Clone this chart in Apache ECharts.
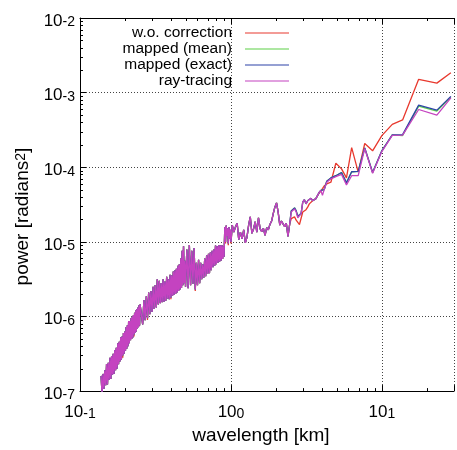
<!DOCTYPE html>
<html>
<head>
<meta charset="utf-8">
<script src="https://cdn.jsdelivr.net/npm/echarts@6/dist/echarts.min.js"></script>
<style>
html,body{margin:0;padding:0;background:#fff;}
#chart{width:457px;height:450px;}
</style>
</head>
<body>
<div id="chart"></div>
<script>
// wavelength [km]
const wavelength = [
0.138,0.14,0.142,0.144,0.146,0.148,0.15,0.152,0.154,0.156,0.158,0.16,0.162,0.164,0.166,0.168,0.17,0.172,0.174,0.176,0.178,0.18,0.182,0.184,0.186,0.188,0.19,0.192,0.194,0.196,0.198,0.2,0.202,0.204,0.206,0.208,0.21,0.212,0.214,0.216,0.218,0.22,0.222,0.224,0.226,0.228,0.23,0.232,0.234,0.236,0.238,0.24,0.242,0.244,0.246,0.248,0.25,
0.255,0.26,0.265,0.27,0.275,0.28,0.285,0.29,0.295,0.3,0.305,0.31,0.315,0.32,0.325,0.33,0.335,0.34,0.345,0.35,0.355,0.36,0.365,0.37,0.375,0.38,0.385,0.39,0.395,0.4,0.405,0.41,0.415,0.42,0.425,0.43,0.435,0.44,0.445,0.45,0.455,0.46,0.465,0.47,0.475,0.48,0.485,0.49,0.495,0.5,
0.51,0.52,0.53,0.54,0.55,0.56,0.57,0.58,0.59,0.6,0.61,0.62,0.63,0.64,0.65,0.66,0.67,0.68,0.69,0.7,0.71,0.72,0.73,0.74,0.75,0.76,0.77,0.78,0.79,0.8,0.81,0.82,0.83,0.84,0.85,0.86,0.87,0.88,0.89,0.9,0.91,0.92,0.93,0.94,0.95,0.96,0.97,0.98,0.99,1.0,
1.02,1.045,1.072,1.099,1.126,1.155,1.184,1.214,1.245,1.276,1.309,1.342,1.376,1.411,1.447,1.483,1.521,1.56,1.599,1.64,1.681,1.724,1.767,1.81,1.858,1.905,1.953,2.003,2.053,2.105,2.158,2.213,2.269,2.326,2.385,2.446,2.507,2.57,2.636,2.703,2.771,2.842,2.914,2.988,3.064,3.141,3.221,3.303,3.386,3.472,3.561,3.651,3.743,3.838,3.936,4.035,4.138,
4.31,4.59,4.95,5.4,5.82,6.3,6.96,7.69,8.67,9.98,11.7,13.7,17.5,23.1,28.6
];

// power [radians^2]
const woCorrection = [
1.6e-7,8.9e-8,1.7e-7,1.07e-7,1.9e-7,1.2e-7,2.3e-7,1.23e-7,2.4e-7,1.41e-7,2.8e-7,1.45e-7,2.95e-7,1.66e-7,3.16e-7,1.7e-7,3.55e-7,1.9e-7,3.8e-7,2.0e-7,4.37e-7,2.3e-7,4.57e-7,2.5e-7,5.25e-7,2.63e-7,5.4e-7,2.8e-7,6.0e-7,3.16e-7,6.3e-7,3.47e-7,7.2e-7,3.7e-7,7.6e-7,4.0e-7,8.7e-7,4.37e-7,8.7e-7,4.8e-7,9.5e-7,5.0e-7,1.0e-6,5.25e-7,1.05e-6,5.4e-7,1.12e-6,6.0e-7,1.2e-6,6.3e-7,1.26e-6,6.9e-7,1.32e-6,7.2e-7,1.41e-6,7.6e-7,1.45e-6,
1.51e-6,7.8e-7,1.66e-6,8.9e-7,1.86e-6,9.0e-7,2.1e-6,1.07e-6,2.2e-6,1.15e-6,2.5e-6,1.26e-6,2.63e-6,1.32e-6,3.16e-6,1.45e-6,3.0e-6,1.51e-6,2.8e-6,1.55e-6,3.16e-6,1.58e-6,2.95e-6,1.62e-6,3.4e-6,1.74e-6,3.16e-6,1.7e-6,3.63e-6,1.7e-6,3.55e-6,1.9e-6,4.0e-6,1.95e-6,4.17e-6,2.0e-6,4.37e-6,2.1e-6,4.8e-6,2.2e-6,5.0e-6,2.3e-6,6.0e-6,2.4e-6,7.6e-6,2.63e-6,8.7e-6,2.8e-6,5.6e-6,2.5e-6,
7.9e-6,2.4e-6,9.1e-6,2.63e-6,7.6e-6,2.75e-6,8.3e-6,2.2e-6,5.25e-6,2.63e-6,5.75e-6,2.8e-6,5.25e-6,3.16e-6,5.0e-6,3.3e-6,6.0e-6,3.47e-6,6.6e-6,3.7e-6,6.9e-6,3.8e-6,7.2e-6,4.17e-6,7.6e-6,4.57e-6,7.9e-6,4.8e-6,8.9e-6,5.0e-6,8.7e-6,5.25e-6,9.1e-6,5.4e-6,8.9e-6,5.6e-6,9.1e-6,5.9e-6,8.7e-6,6.3e-6,1.58e-5,9.5e-6,1.66e-5,1.2e-5,1.51e-5,9.0e-6,1.58e-5,1.1e-5,1.45e-5,9.5e-6,
1.68e-5,1.35e-5,1.6e-5,1.77e-5,1.07e-5,1.35e-5,1.1e-5,1.45e-5,9.7e-6,1.15e-5,1.68e-5,2.16e-5,1.3e-5,1.49e-5,1.86e-5,1.35e-5,2.1e-5,1.49e-5,1.37e-5,1.52e-5,1.22e-5,1.55e-5,1.45e-5,1.71e-5,1.9e-5,2.39e-5,2.92e-5,3.33e-5,2.51e-5,1.68e-5,1.9e-5,2.01e-5,1.6e-5,1.77e-5,1.18e-5,1.71e-5,2.05e-5,2.09e-5,2.16e-5,1.95e-5,1.82e-5,1.71e-5,1.77e-5,2.51e-5,2.64e-5,2.7e-5,2.92e-5,3.23e-5,3.4e-5,3.56e-5,3.67e-5,3.8e-5,4.15e-5,4.5e-5,4.8e-5,5.18e-5,5.6e-5,
6.0e-5,6.3e-5,1.13e-4,9.5e-5,7.2e-5,1.83e-4,8.6e-5,2.08e-4,1.66e-4,2.65e-4,3.76e-4,4.3e-4,1.51e-3,1.34e-3,1.85e-3
];

const mappedMean = [
1.6e-7,8.9e-8,1.7e-7,1.07e-7,1.9e-7,1.2e-7,2.3e-7,1.23e-7,2.4e-7,1.41e-7,2.8e-7,1.45e-7,2.95e-7,1.66e-7,3.16e-7,1.7e-7,3.55e-7,1.9e-7,3.8e-7,2.0e-7,4.37e-7,2.3e-7,4.57e-7,2.5e-7,5.25e-7,2.63e-7,5.4e-7,3.0e-7,6.0e-7,3.16e-7,6.3e-7,3.47e-7,7.2e-7,3.7e-7,7.6e-7,4.0e-7,8.7e-7,4.37e-7,8.7e-7,4.8e-7,9.5e-7,5.0e-7,1.0e-6,5.25e-7,1.05e-6,5.75e-7,1.12e-6,6.0e-7,1.2e-6,6.3e-7,1.26e-6,6.9e-7,1.32e-6,7.2e-7,1.41e-6,7.6e-7,1.45e-6,
1.51e-6,7.8e-7,1.66e-6,8.9e-7,1.86e-6,9.5e-7,2.1e-6,1.07e-6,2.2e-6,1.15e-6,2.5e-6,1.26e-6,2.63e-6,1.32e-6,3.16e-6,1.45e-6,3.0e-6,1.51e-6,2.8e-6,1.55e-6,3.16e-6,1.58e-6,2.95e-6,1.62e-6,3.4e-6,1.74e-6,3.16e-6,1.7e-6,3.63e-6,1.78e-6,3.55e-6,1.9e-6,4.0e-6,1.95e-6,4.17e-6,2.0e-6,4.37e-6,2.1e-6,4.8e-6,2.2e-6,5.0e-6,2.3e-6,6.0e-6,2.4e-6,7.6e-6,2.63e-6,8.7e-6,2.8e-6,5.6e-6,2.5e-6,
7.9e-6,2.4e-6,9.1e-6,2.63e-6,7.6e-6,2.75e-6,8.3e-6,2.3e-6,5.25e-6,2.63e-6,5.75e-6,2.8e-6,5.25e-6,3.16e-6,5.0e-6,3.3e-6,6.0e-6,3.47e-6,6.6e-6,3.7e-6,6.9e-6,3.8e-6,7.2e-6,4.17e-6,7.6e-6,4.57e-6,7.9e-6,4.8e-6,8.9e-6,5.0e-6,8.7e-6,5.25e-6,9.1e-6,5.4e-6,8.9e-6,5.6e-6,9.1e-6,5.9e-6,8.7e-6,6.3e-6,1.58e-5,1.0e-5,1.66e-5,1.2e-5,1.51e-5,9.5e-6,1.58e-5,1.1e-5,1.45e-5,1.0e-5,
1.68e-5,1.35e-5,1.6e-5,1.77e-5,1.07e-5,1.35e-5,1.1e-5,1.45e-5,9.7e-6,1.15e-5,1.68e-5,2.16e-5,1.3e-5,1.49e-5,1.86e-5,1.35e-5,2.1e-5,1.49e-5,1.37e-5,1.52e-5,1.22e-5,1.55e-5,1.45e-5,1.71e-5,1.9e-5,2.39e-5,2.92e-5,3.33e-5,2.51e-5,1.68e-5,1.9e-5,2.01e-5,1.6e-5,1.77e-5,1.18e-5,1.71e-5,2.6e-5,2.5e-5,2.85e-5,2.6e-5,2.2e-5,2.16e-5,2.39e-5,3.4e-5,3.67e-5,3.23e-5,3.56e-5,3.4e-5,3.83e-5,3.56e-5,3.4e-5,3.8e-5,3.6e-5,4.6e-5,4.9e-5,4.8e-5,5.0e-5,
6.5e-5,7.2e-5,7.7e-5,8.5e-5,6.2e-5,8.7e-5,8.8e-5,1.82e-4,8.5e-5,1.66e-4,2.71e-4,2.66e-4,6.6e-4,5.65e-4,8.7e-4
];

const mappedExact = [
1.6e-7,8.9e-8,1.7e-7,1.07e-7,1.9e-7,1.2e-7,2.3e-7,1.23e-7,2.4e-7,1.41e-7,2.8e-7,1.45e-7,2.95e-7,1.66e-7,3.16e-7,1.7e-7,3.55e-7,1.9e-7,3.8e-7,2.0e-7,4.37e-7,2.3e-7,4.57e-7,2.5e-7,5.25e-7,2.63e-7,5.4e-7,3.0e-7,6.0e-7,3.16e-7,6.3e-7,3.47e-7,7.2e-7,3.7e-7,7.6e-7,4.0e-7,8.7e-7,4.37e-7,8.7e-7,4.8e-7,9.5e-7,5.0e-7,1.0e-6,5.25e-7,1.05e-6,5.75e-7,1.12e-6,6.0e-7,1.2e-6,6.3e-7,1.26e-6,6.9e-7,1.32e-6,7.2e-7,1.41e-6,7.6e-7,1.45e-6,
1.51e-6,7.8e-7,1.66e-6,8.9e-7,1.86e-6,9.5e-7,2.1e-6,1.07e-6,2.2e-6,1.15e-6,2.5e-6,1.26e-6,2.63e-6,1.32e-6,3.16e-6,1.45e-6,3.0e-6,1.51e-6,2.8e-6,1.55e-6,3.16e-6,1.58e-6,2.95e-6,1.62e-6,3.4e-6,1.74e-6,3.16e-6,1.7e-6,3.63e-6,1.78e-6,3.55e-6,1.9e-6,4.0e-6,1.95e-6,4.17e-6,2.0e-6,4.37e-6,2.1e-6,4.8e-6,2.2e-6,5.0e-6,2.3e-6,6.0e-6,2.4e-6,7.6e-6,2.63e-6,8.7e-6,2.8e-6,5.6e-6,2.5e-6,
7.9e-6,2.4e-6,9.1e-6,2.63e-6,7.6e-6,2.75e-6,8.3e-6,2.3e-6,5.25e-6,2.63e-6,5.75e-6,2.8e-6,5.25e-6,3.16e-6,5.0e-6,3.3e-6,6.0e-6,3.47e-6,6.6e-6,3.7e-6,6.9e-6,3.8e-6,7.2e-6,4.17e-6,7.6e-6,4.57e-6,7.9e-6,4.8e-6,8.9e-6,5.0e-6,8.7e-6,5.25e-6,9.1e-6,5.4e-6,8.9e-6,5.6e-6,9.1e-6,5.9e-6,8.7e-6,6.3e-6,1.58e-5,1.0e-5,1.66e-5,1.2e-5,1.51e-5,9.5e-6,1.58e-5,1.1e-5,1.45e-5,1.0e-5,
1.68e-5,1.35e-5,1.6e-5,1.77e-5,1.07e-5,1.35e-5,1.1e-5,1.45e-5,9.7e-6,1.15e-5,1.68e-5,2.16e-5,1.3e-5,1.49e-5,1.86e-5,1.35e-5,2.1e-5,1.49e-5,1.37e-5,1.52e-5,1.22e-5,1.55e-5,1.45e-5,1.71e-5,1.9e-5,2.39e-5,2.92e-5,3.33e-5,2.51e-5,1.68e-5,1.9e-5,2.01e-5,1.6e-5,1.77e-5,1.18e-5,1.71e-5,2.6e-5,2.5e-5,2.85e-5,2.6e-5,2.2e-5,2.16e-5,2.39e-5,3.4e-5,3.67e-5,3.23e-5,3.56e-5,3.4e-5,3.83e-5,3.56e-5,3.4e-5,3.8e-5,3.6e-5,4.6e-5,4.9e-5,4.8e-5,5.0e-5,
6.5e-5,7.2e-5,7.7e-5,8.5e-5,6.2e-5,8.7e-5,8.8e-5,1.82e-4,8.5e-5,1.66e-4,2.71e-4,2.74e-4,6.8e-4,5.83e-4,8.9e-4
];

const rayTracing = [
1.6e-7,8.9e-8,1.7e-7,1.07e-7,1.9e-7,1.2e-7,2.3e-7,1.23e-7,2.4e-7,1.41e-7,2.8e-7,1.45e-7,2.95e-7,1.66e-7,3.16e-7,1.7e-7,3.55e-7,1.9e-7,3.8e-7,2.0e-7,4.37e-7,2.3e-7,4.57e-7,2.5e-7,5.25e-7,2.63e-7,5.4e-7,3.0e-7,6.0e-7,3.16e-7,6.3e-7,3.47e-7,7.2e-7,3.7e-7,7.6e-7,4.0e-7,8.7e-7,4.37e-7,8.7e-7,4.8e-7,9.5e-7,5.0e-7,1.0e-6,5.25e-7,1.05e-6,5.75e-7,1.12e-6,6.0e-7,1.2e-6,6.3e-7,1.26e-6,6.9e-7,1.32e-6,7.2e-7,1.41e-6,7.6e-7,1.45e-6,
1.51e-6,7.8e-7,1.66e-6,8.9e-7,1.86e-6,9.5e-7,2.1e-6,1.07e-6,2.2e-6,1.15e-6,2.5e-6,1.26e-6,2.63e-6,1.32e-6,3.16e-6,1.45e-6,3.0e-6,1.51e-6,2.8e-6,1.55e-6,3.16e-6,1.58e-6,2.95e-6,1.62e-6,3.4e-6,1.74e-6,3.16e-6,1.7e-6,3.63e-6,1.78e-6,3.55e-6,1.9e-6,4.0e-6,1.95e-6,4.17e-6,2.0e-6,4.37e-6,2.1e-6,4.8e-6,2.2e-6,5.0e-6,2.3e-6,6.0e-6,2.4e-6,7.6e-6,2.63e-6,8.7e-6,2.8e-6,5.6e-6,2.5e-6,
7.9e-6,2.4e-6,9.1e-6,2.63e-6,7.6e-6,2.75e-6,8.3e-6,2.3e-6,5.25e-6,2.63e-6,5.75e-6,2.8e-6,5.25e-6,3.16e-6,5.0e-6,3.3e-6,6.0e-6,3.47e-6,6.6e-6,3.7e-6,6.9e-6,3.8e-6,7.2e-6,4.17e-6,7.6e-6,4.57e-6,7.9e-6,4.8e-6,8.9e-6,5.0e-6,8.7e-6,5.25e-6,9.1e-6,5.4e-6,8.9e-6,5.6e-6,9.1e-6,5.9e-6,8.7e-6,6.3e-6,1.58e-5,1.0e-5,1.66e-5,1.2e-5,1.51e-5,9.5e-6,1.58e-5,1.1e-5,1.45e-5,1.0e-5,
1.68e-5,1.35e-5,1.6e-5,1.77e-5,1.07e-5,1.35e-5,1.1e-5,1.45e-5,9.7e-6,1.15e-5,1.68e-5,2.16e-5,1.3e-5,1.49e-5,1.86e-5,1.35e-5,2.1e-5,1.49e-5,1.37e-5,1.52e-5,1.22e-5,1.55e-5,1.45e-5,1.71e-5,1.9e-5,2.39e-5,2.92e-5,3.33e-5,2.51e-5,1.68e-5,1.9e-5,2.01e-5,1.6e-5,1.77e-5,1.18e-5,1.71e-5,2.51e-5,2.39e-5,2.77e-5,2.51e-5,2.1e-5,2.16e-5,2.39e-5,3.4e-5,3.67e-5,3.23e-5,3.56e-5,3.4e-5,3.83e-5,3.56e-5,3.4e-5,3.8e-5,3.6e-5,4.6e-5,4.9e-5,4.2e-5,5.0e-5,
6.3e-5,7.0e-5,7.5e-5,8.0e-5,5.8e-5,7.7e-5,7.7e-5,1.78e-4,8.3e-5,1.62e-4,2.68e-4,2.7e-4,5.94e-4,5.0e-4,8.5e-4
];

const seriesNames = ['w.o. correction', 'mapped (mean)', 'mapped (exact)', 'ray-tracing'];
const seriesColors = ['#e8392e', '#5ccf47', '#2d43a8', '#c443c0'];
const xMinorTicks = [0.2,0.3,0.4,0.5,0.6,0.7,0.8,0.9,2,3,4,5,6,7,8,9,20];
const yMinorTicks = [2e-7,3e-7,4e-7,5e-7,6e-7,7e-7,8e-7,9e-7,2e-6,3e-6,4e-6,5e-6,6e-6,7e-6,8e-6,9e-6,2e-5,3e-5,4e-5,5e-5,6e-5,7e-5,8e-5,9e-5,2e-4,3e-4,4e-4,5e-4,6e-4,7e-4,8e-4,9e-4,2e-3,3e-3,4e-3,5e-3,6e-3,7e-3,8e-3,9e-3];

const allSeries = [woCorrection, mappedMean, mappedExact, rayTracing];
allSeries.forEach((a, i) => {
  if (a.length !== wavelength.length) throw new Error('length mismatch ' + i + ': ' + a.length + ' vs ' + wavelength.length);
});

const FONT = '"Liberation Sans", Arial, Helvetica, sans-serif';
// superscript raised by giving it a taller bottom-aligned line box
const yLabelRich = {
  b: {fontSize: 17, fontFamily: FONT, color: '#000', lineHeight: 17, verticalAlign: 'bottom'},
  s: {fontSize: 14, fontFamily: FONT, color: '#000', lineHeight: 23, verticalAlign: 'bottom'}
};
const xLabelRich = {
  b: {fontSize: 17, fontFamily: FONT, color: '#000', lineHeight: 17, verticalAlign: 'bottom'},
  s: {fontSize: 14, fontFamily: FONT, color: '#000', lineHeight: 25, verticalAlign: 'bottom'}
};
function powLabel(v) {
  const e = Math.log10(v);
  const r = Math.round(e);
  if (Math.abs(e - r) > 1e-6) return '';
  return '{b|10}{s|' + r + '}';
}
const X_MIN = 0.1, X_MAX = 30, Y_MIN = 1e-7, Y_MAX = 1e-2;
const gridLine = {show: true, lineStyle: {color: '#444', width: 1, type: [1, 2]}};
const axisLineStyle = {show: true, onZero: false, lineStyle: {color: '#000', width: 1}};
const crisp = v => Math.round(v) + 0.5;

const chart = echarts.init(document.getElementById('chart'), null, {renderer: 'canvas'});
chart.setOption({
  animation: false,
  backgroundColor: '#fff',
  grid: {left: 80, right: -3, top: 18, bottom: 50, containLabel: false},
  legend: {
    orient: 'vertical', right: 168, top: 25, align: 'right', padding: 0,
    itemWidth: 44, itemHeight: 1.2, itemGap: 0, icon: 'rect', selectedMode: false,
    textStyle: {fontSize: 15.5, fontFamily: FONT, color: '#000', lineHeight: 16, padding: [0, 8, 0, 0]},
    data: seriesNames
  },
  xAxis: [
    {type: 'log', logBase: 10, min: X_MIN, max: X_MAX, position: 'bottom',
     axisLine: axisLineStyle,
     axisTick: {show: true, inside: true, length: 6, lineStyle: {color: '#000'}},
     axisLabel: {formatter: powLabel, rich: xLabelRich, margin: 5},
     splitLine: gridLine,
     name: 'wavelength [km]', nameLocation: 'middle', nameGap: 31,
     nameTextStyle: {fontSize: 19, fontFamily: FONT, color: '#000', padding: [0, 12, 0, 0]}},
    {type: 'log', logBase: 10, min: X_MIN, max: X_MAX, position: 'top',
     axisLine: axisLineStyle,
     axisTick: {show: true, inside: true, length: 6, lineStyle: {color: '#000'}},
     axisLabel: {show: false}, splitLine: {show: false}}
  ],
  yAxis: [
    {type: 'log', logBase: 10, min: Y_MIN, max: Y_MAX, position: 'left',
     axisLine: axisLineStyle,
     axisTick: {show: true, inside: true, length: 6, lineStyle: {color: '#000'}},
     axisLabel: {formatter: powLabel, rich: yLabelRich, margin: 5},
     splitLine: gridLine,
     name: '{n|power [radians}{ns|2}{n|]}', nameLocation: 'middle', nameGap: 44, nameRotate: 90,
     nameTextStyle: {
       padding: [0, 24, 0, 0],
       rich: {
         n: {fontSize: 19, fontFamily: FONT, color: '#000', lineHeight: 19, padding: [4, 0, 0, 0], verticalAlign: 'bottom'},
         ns: {fontSize: 14, fontFamily: FONT, color: '#000', lineHeight: 14, verticalAlign: 'top'}
       }
     }}
  ],
  series: allSeries.map((arr, i) => ({
    type: 'line', name: seriesNames[i], xAxisIndex: 0, yAxisIndex: 0,
    data: wavelength.map((x, j) => [x, arr[j]]),
    showSymbol: false, symbol: 'none', silent: true,
    lineStyle: {width: 1.3, color: seriesColors[i]},
    itemStyle: {color: seriesColors[i]},
    z: 2 + i
  })).concat([
    {
      type: 'custom', xAxisIndex: 0, yAxisIndex: 0, silent: true, clip: false, z: 20,
      data: xMinorTicks.map(v => [v, Y_MIN]),
      renderItem: function (params, api) {
        const x = api.value(0);
        const pb = api.coord([x, Y_MIN]);
        const pt = api.coord([x, Y_MAX]);
        const cx = crisp(pb[0]);
        return {type: 'group', children: [
          {type: 'line', shape: {x1: cx, y1: pb[1], x2: cx, y2: pb[1] - 3}, style: {stroke: '#000', lineWidth: 1}},
          {type: 'line', shape: {x1: cx, y1: pt[1], x2: cx, y2: pt[1] + 3}, style: {stroke: '#000', lineWidth: 1}}
        ]};
      }
    },
    {
      type: 'custom', xAxisIndex: 0, yAxisIndex: 0, silent: true, clip: false, z: 20,
      data: yMinorTicks.map(v => [X_MIN, v]),
      renderItem: function (params, api) {
        const y = api.value(1);
        const p = api.coord([X_MIN, y]);
        const cy = crisp(p[1]);
        return {type: 'line', shape: {x1: p[0], y1: cy, x2: p[0] + 3, y2: cy}, style: {stroke: '#000', lineWidth: 1}};
      }
    }
  ])
});
</script>
</body>
</html>
